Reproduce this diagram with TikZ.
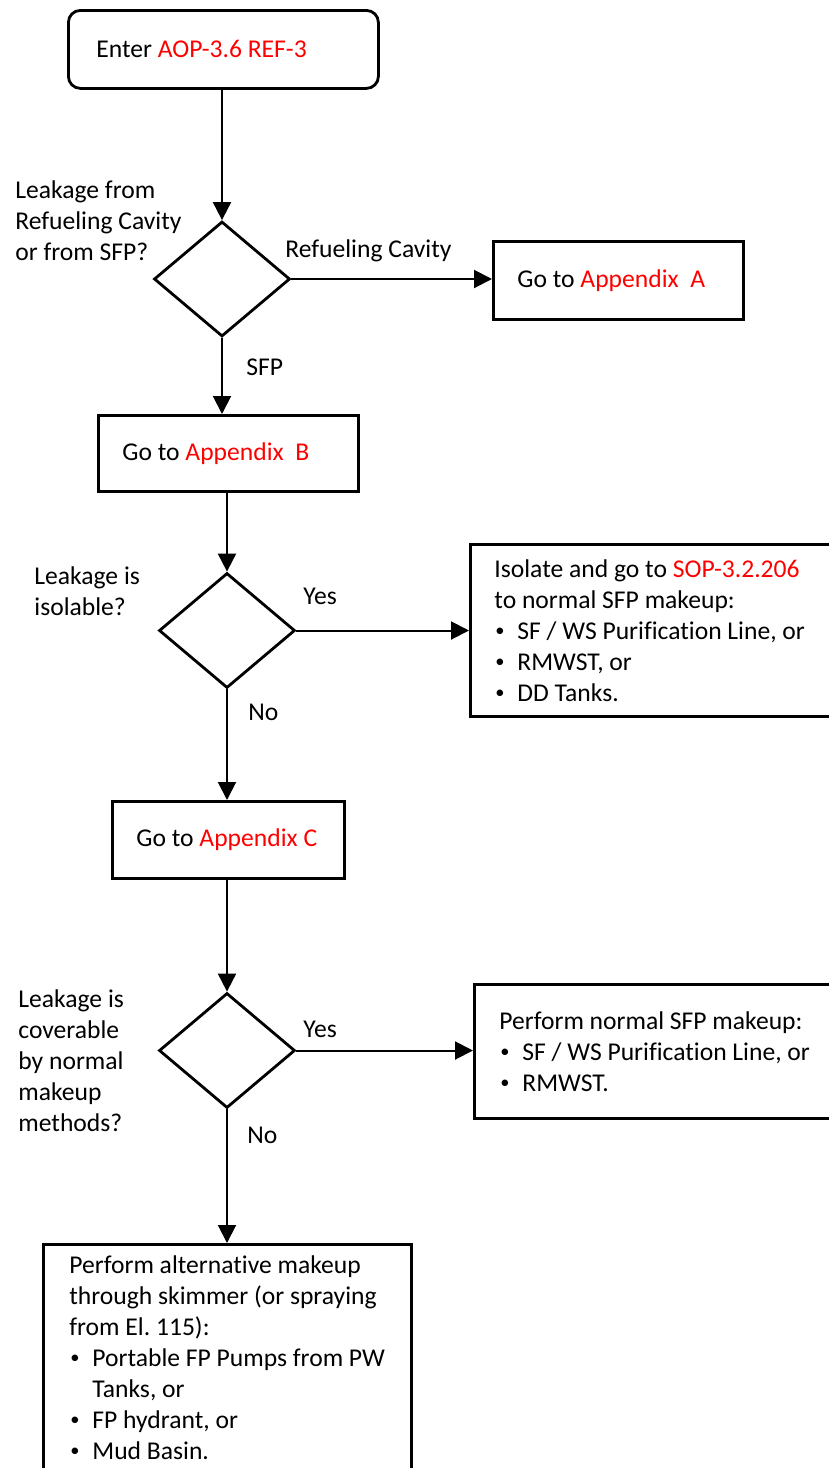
\documentclass[tikz,border=0pt]{standalone}
\usepackage{fontspec}
\setmainfont{Carlito}[Ligatures=NoCommon]
\usetikzlibrary{arrows.meta, shapes.geometric}
\definecolor{refRed}{HTML}{FF0000}
\frenchspacing
\newcommand{\fs}{\fontsize{12.8pt}{15.5pt}\selectfont}
\newcommand{\redtxt}[1]{\textcolor{refRed}{#1}}
% bullet line with hanging indent for the wrapped part
\newcommand{\bul}{\par\noindent\hangindent=11.5pt\hangafter=1%
  \makebox[11.5pt][l]{\hspace{0.5pt}\raisebox{0.2ex}{\scalebox{0.72}{\textbullet}}}}
\tikzset{
  % process boxes: text flush left, fixed left padding
  box/.style={draw=black, line width=1.4pt, rectangle, anchor=north west,
    inner xsep=12pt, inner ysep=4pt, align=flush left, font=\fs},
  startbox/.style={box, rounded corners=6pt, inner xsep=14pt},
  % decision diamonds (question is written beside them)
  dec/.style={draw=black, line width=1.4pt, diamond,
    minimum width=68pt, minimum height=57.5pt, inner sep=0pt},
  lbl/.style={anchor=base west, align=flush left, inner sep=0pt, font=\fs},
  A/.style={-{Triangle[length=9pt,width=9pt]}, line width=1pt},
}
\begin{document}
\begin{tikzpicture}[x=0.5pt, y=-0.5pt]
\useasboundingbox (0,0) rectangle (829,1468);
\clip (0,0) rectangle (829,1468);

% ---------------------------------------------------------------
% main column
% ---------------------------------------------------------------
\node[startbox, text width=127pt, minimum height=39pt] (enter) at (67,9)
  {\mbox{Enter \redtxt{AOP-3.6 REF-3}}};

\node[dec] (qSrc) at (222,279) {};
\draw[A] (enter.south -| qSrc) -- (qSrc.north);

\node[box, text width=101pt, minimum height=39pt] (appA) at (492,240)
  {\mbox{Go to \redtxt{Appendix~~A}}};
\draw[A] (qSrc.east) -- (appA.west |- qSrc.east);

\node[box, text width=106pt, minimum height=38pt] (appB) at (97,414)
  {\mbox{Go to \redtxt{Appendix~~B}}};
\draw[A] (qSrc.south) -- (qSrc.south |- appB.north);

\node[dec] (qIso) at (227,630.5) {};
\draw[A] (appB.south -| qIso) -- (qIso.north);

\node[box, text width=166.5pt, minimum height=86pt] (isolate) at (469,543)
  {Isolate and go to \redtxt{SOP-3.2.206}\\
   to normal SFP makeup:
   \bul SF / WS Purification Line, or
   \bul RMWST, or
   \bul DD Tanks.};
\draw[A] (qIso.east) -- (isolate.west |- qIso.east);

\node[box, text width=92pt, minimum height=38.5pt] (appC) at (111,800)
  {\mbox{Go to \redtxt{Appendix C}}};
\draw[A] (qIso.south) -- (qIso.south |- appC.north);

\node[dec] (qCov) at (227,1050.5) {};
\draw[A] (appC.south -| qCov) -- (qCov.north);

\node[box, inner xsep=12.5pt, text width=163.5pt, minimum height=67pt] (normal) at (473,983)
  {Perform normal SFP makeup:
   \bul SF / WS Purification Line, or
   \bul RMWST.};
\draw[A] (qCov.east) -- (normal.west |- qCov.east);

\node[box, inner xsep=13pt, inner ysep=5.5pt, text width=158pt] (alt) at (42,1243)
  {Perform alternative makeup\\
   through skimmer (or spraying\\
   from El. 115):
   \bul \mbox{Portable FP Pumps from PW}\newline Tanks, or
   \bul FP hydrant, or
   \bul Mud Basin.};
\draw[A] (qCov.south) -- (qCov.south |- alt.north);

% ---------------------------------------------------------------
% questions and branch labels
% ---------------------------------------------------------------
\node[lbl] (tSrc) at (15,260) {Leakage from\\Refueling Cavity\\or from SFP?};
\node[lbl] (tCav) at (285,257) {Refueling Cavity};
\node[lbl] (tSfp) at (246,375) {SFP};

\node[lbl] (tIso) at (34,615) {Leakage is\\isolable?};
\node[lbl] (tYes1) at (303,604) {Yes};
\node[lbl] (tNo1) at (248,720) {No};

\node[lbl] (tCov) at (18,1131) {Leakage is\\coverable\\by normal\\makeup\\methods?};
\node[lbl] (tYes2) at (303,1037) {Yes};
\node[lbl] (tNo2) at (247,1143) {No};

\end{tikzpicture}
\end{document}
